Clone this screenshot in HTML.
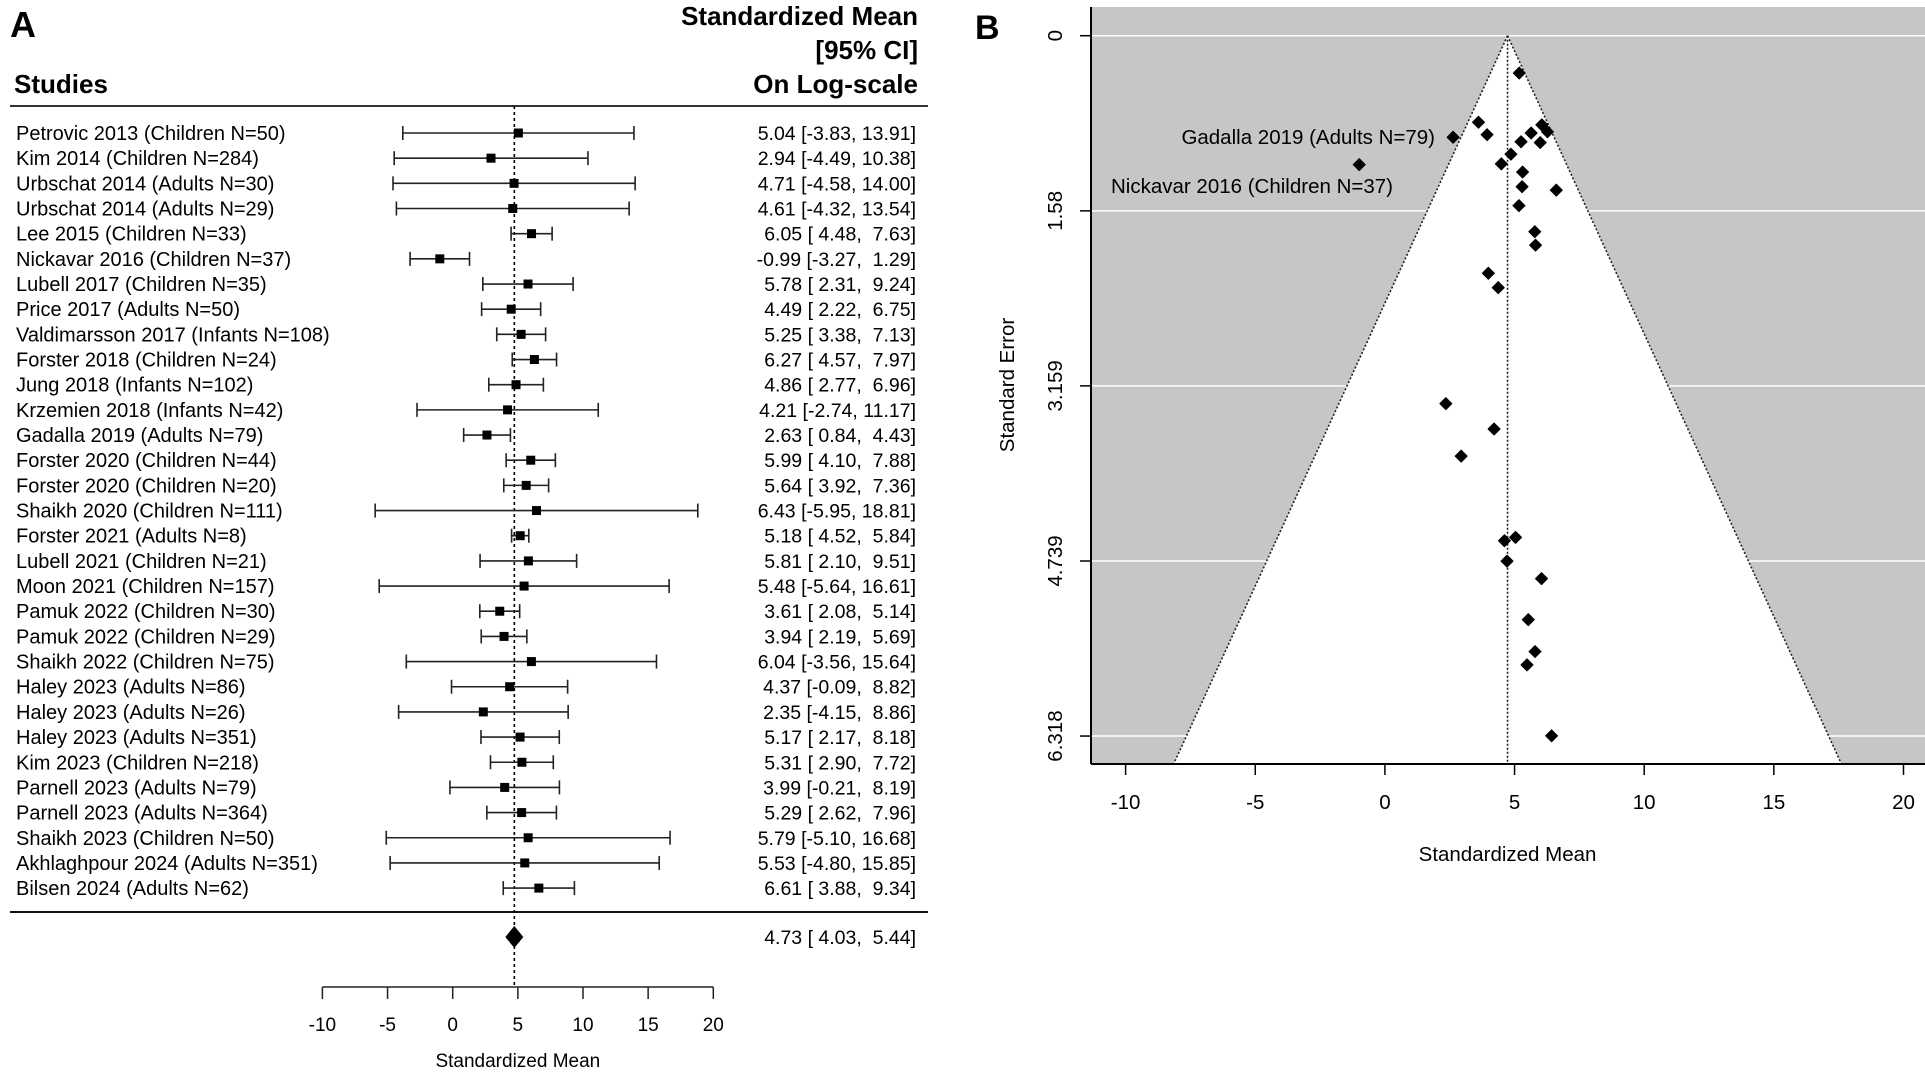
<!DOCTYPE html>
<html><head><meta charset="utf-8"><style>
html,body{margin:0;padding:0;background:#fff;}
svg{display:block;font-family:"Liberation Sans",Arial,sans-serif;}
</style></head><body>
<svg id="fig" width="1925" height="1077" viewBox="0 0 1925 1077" xmlns="http://www.w3.org/2000/svg">
<g id="forest"></g>
<g id="funnel"></g>
</svg>
<script>
const studies = ["Petrovic 2013 (Children N=50)","Kim 2014 (Children N=284)","Urbschat 2014 (Adults N=30)","Urbschat 2014 (Adults N=29)","Lee 2015 (Children N=33)","Nickavar 2016 (Children N=37)","Lubell 2017 (Children N=35)","Price 2017 (Adults N=50)","Valdimarsson 2017 (Infants N=108)","Forster 2018 (Children N=24)","Jung 2018 (Infants N=102)","Krzemien 2018 (Infants N=42)","Gadalla 2019 (Adults N=79)","Forster 2020 (Children N=44)","Forster 2020 (Children N=20)","Shaikh 2020 (Children N=111)","Forster 2021 (Adults N=8)","Lubell 2021 (Children N=21)","Moon 2021 (Children N=157)","Pamuk 2022 (Children N=30)","Pamuk 2022 (Children N=29)","Shaikh 2022 (Children N=75)","Haley 2023 (Adults N=86)","Haley 2023 (Adults N=26)","Haley 2023 (Adults N=351)","Kim 2023 (Children N=218)","Parnell 2023 (Adults N=79)","Parnell 2023 (Adults N=364)","Shaikh 2023 (Children N=50)","Akhlaghpour 2024 (Adults N=351)","Bilsen 2024 (Adults N=62)"];
const means = [5.04,2.94,4.71,4.61,6.05,-0.99,5.78,4.49,5.25,6.27,4.86,4.21,2.63,5.99,5.64,6.43,5.18,5.81,5.48,3.61,3.94,6.04,4.37,2.35,5.17,5.31,3.99,5.29,5.79,5.53,6.61];
const lowers = [-3.83,-4.49,-4.58,-4.32,4.48,-3.27,2.31,2.22,3.38,4.57,2.77,-2.74,0.84,4.10,3.92,-5.95,4.52,2.10,-5.64,2.08,2.19,-3.56,-0.09,-4.15,2.17,2.90,-0.21,2.62,-5.10,-4.80,3.88];
const uppers = [13.91,10.38,14.00,13.54,7.63,1.29,9.24,6.75,7.13,7.97,6.96,11.17,4.43,7.88,7.36,18.81,5.84,9.51,16.61,5.14,5.69,15.64,8.82,8.86,8.18,7.72,8.19,7.96,16.68,15.85,9.34];
const ses = [4.526,3.793,4.740,4.556,0.804,1.163,1.768,1.156,0.957,0.867,1.069,3.548,0.916,0.964,0.878,6.316,0.337,1.890,5.676,0.781,0.893,4.898,2.273,3.319,1.533,1.230,2.143,1.362,5.556,5.268,1.393];
const pooled = [4.73,4.03,5.44];
const xTicks = [-10,-5,0,5,10,15,20];
const seTicks = [0,1.58,3.159,4.739,6.318];
const seTickLabels = ["0","1.58","3.159","4.739","6.318"];

const NS="http://www.w3.org/2000/svg";
function mk(parent,tag,attrs,text){const e=document.createElementNS(NS,tag);for(const k in attrs)e.setAttribute(k,attrs[k]);if(text!==undefined)e.textContent=text;parent.appendChild(e);return e;}
function f2(v){return v.toFixed(2);}
function pad(s,n){while(s.length<n)s=" "+s;return s;}

// ---------- Forest ----------
const F=document.getElementById('forest');
const fx=v=>452.7+v*13.03;
const rowY=i=>133+i*25.17;
let t;
t=mk(F,'text',{x:10,y:37,'font-size':36,'font-weight':'bold'},'A');

t=mk(F,'text',{x:918,y:25,'font-size':26,'font-weight':'bold','text-anchor':'end'},'Standardized Mean');

t=mk(F,'text',{x:918,y:59,'font-size':26,'font-weight':'bold','text-anchor':'end'},'[95% CI]');

t=mk(F,'text',{x:918,y:93,'font-size':26,'font-weight':'bold','text-anchor':'end'},'On Log-scale');

t=mk(F,'text',{x:14,y:93,'font-size':26,'font-weight':'bold'},'Studies');

t=mk(F,'line',{x1:10,x2:928,y1:106,y2:106,stroke:'#333','stroke-width':2});

t=mk(F,'line',{x1:10,x2:928,y1:912,y2:912,stroke:'#111','stroke-width':2});

t=mk(F,'line',{x1:fx(pooled[0]),x2:fx(pooled[0]),y1:106,y2:986,stroke:'#000','stroke-width':1.6,'stroke-dasharray':'3,3'});

studies.forEach((s,i)=>{
  const y=rowY(i);
  const g=mk(F,'g',{});
  
  let e=mk(g,'text',{x:16,y:y+7,'font-size':20},s);
  
  e=mk(g,'line',{x1:fx(lowers[i]),x2:fx(uppers[i]),y1:y,y2:y,stroke:'#222','stroke-width':1.6});
  
  [lowers[i],uppers[i]].forEach(v=>{const c=mk(g,'line',{x1:fx(v),x2:fx(v),y1:y-7,y2:y+7,stroke:'#222','stroke-width':1.6});
    });
  e=mk(g,'rect',{x:fx(means[i])-4.5,y:y-4.5,width:9,height:9,fill:'#000'});
  
  const lbl=f2(means[i])+" ["+pad(f2(lowers[i]),5)+", "+pad(f2(uppers[i]),5)+"]";
  e=mk(g,'text',{x:916,y:y+7,'font-size':19.5,'text-anchor':'end'},lbl);
  e.style.whiteSpace='pre';
  
});
{
  const y=937,x0=fx(pooled[0]);
  t=mk(F,'polygon',{points:`${x0-9},${y} ${x0},${y-11} ${x0+9},${y} ${x0},${y+11}`,fill:'#000'});
  
  t=mk(F,'text',{x:916,y:y+7,'font-size':19.5,'text-anchor':'end'},f2(pooled[0])+" ["+pad(f2(pooled[1]),5)+", "+pad(f2(pooled[2]),5)+"]");
  t.style.whiteSpace='pre';
  
}
t=mk(F,'line',{x1:fx(xTicks[0]),x2:fx(xTicks[xTicks.length-1]),y1:987,y2:987,stroke:'#222','stroke-width':1.5});

xTicks.forEach(v=>{
  let e=mk(F,'line',{x1:fx(v),x2:fx(v),y1:987,y2:999,stroke:'#222','stroke-width':1.5});
  
  e=mk(F,'text',{x:fx(v),y:1031,'font-size':19,'text-anchor':'middle'},String(v));
  
});
t=mk(F,'text',{x:fx(5),y:1067,'font-size':19,'text-anchor':'middle'},'Standardized Mean');


// ---------- Funnel ----------
const G=document.getElementById('funnel');
const L=1091,R=1925,T=7,B=764;
const gx=v=>1384.9+v*25.93;
const gy=s=>35.7+s*110.85;
const seMax=(B-35.7)/110.85;
t=mk(G,'text',{x:975,y:39,'font-size':34,'font-weight':'bold'},'B');

t=mk(G,'rect',{x:L,y:T,width:R-L,height:B-T,fill:'#c6c6c6'});

seTicks.forEach(s=>{const e=mk(G,'line',{x1:L,x2:R,y1:gy(s),y2:gy(s),stroke:'#fff','stroke-width':1.5});
  });
const m=pooled[0];
const xl=gx(m-1.96*seMax), xr=gx(m+1.96*seMax);
t=mk(G,'polygon',{points:`${gx(m)},${gy(0)} ${xl},${B} ${xr},${B}`,fill:'#fff'});

[xl,xr].forEach(x=>{const e=mk(G,'line',{x1:gx(m),y1:gy(0),x2:x,y2:B,stroke:'#222','stroke-width':1.6,'stroke-dasharray':'2,2'});
  });
t=mk(G,'line',{x1:gx(m),x2:gx(m),y1:gy(0),y2:B,stroke:'#111','stroke-width':1.5,'stroke-dasharray':'2,2'});

means.forEach((v,i)=>{const x=gx(v),y=gy(ses[i]);
  const e=mk(G,'polygon',{points:`${x-6},${y} ${x},${y-6} ${x+6},${y} ${x},${y+6}`,fill:'#000','stroke':'#000','stroke-width':1,'stroke-linejoin':'round'});
  });
t=mk(G,'text',{x:1435,y:144,'font-size':20.5,'text-anchor':'end'},'Gadalla 2019 (Adults N=79)');

t=mk(G,'text',{x:1393,y:193,'font-size':20.5,'text-anchor':'end'},'Nickavar 2016 (Children N=37)');

t=mk(G,'line',{x1:L,x2:L,y1:T,y2:B,stroke:'#000','stroke-width':2});

t=mk(G,'line',{x1:L,x2:R,y1:B,y2:B,stroke:'#000','stroke-width':2});

xTicks.forEach(v=>{
  let e=mk(G,'line',{x1:gx(v),x2:gx(v),y1:B,y2:B+11,stroke:'#000','stroke-width':1.5});
  
  e=mk(G,'text',{x:gx(v),y:809,'font-size':20.5,'text-anchor':'middle'},String(v));
  
});
seTicks.forEach((s,i)=>{
  let e=mk(G,'line',{x1:L-11,x2:L,y1:gy(s),y2:gy(s),stroke:'#000','stroke-width':1.5});
  
  e=mk(G,'text',{x:0,y:0,'font-size':20.5,'text-anchor':'middle',transform:`translate(1062,${gy(s)}) rotate(-90)`},seTickLabels[i]);
  
});
t=mk(G,'text',{x:gx(m),y:861,'font-size':20.5,'text-anchor':'middle'},'Standardized Mean');

t=mk(G,'text',{x:0,y:0,'font-size':20.5,'text-anchor':'middle',transform:'translate(1014,385) rotate(-90)'},'Standard Error');

</script>
</body></html>
